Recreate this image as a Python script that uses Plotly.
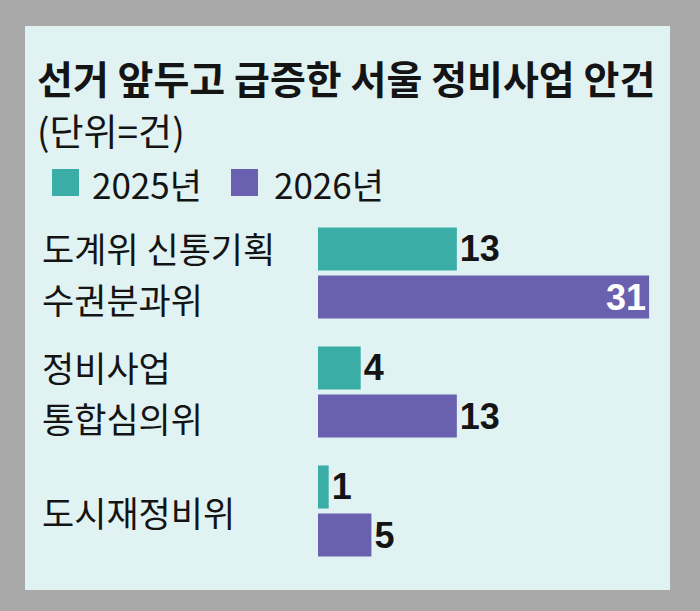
import plotly.graph_objects as go

# ---- data ----
categories = ["도계위 신통기획<br>수권분과위", "정비사업<br>통합심의위", "도시재정비위"]
series_names = ["2025년", "2026년"]
values_2025 = [13, 4, 1]
values_2026 = [31, 13, 5]
title_text = "선거 앞두고 급증한 서울 정비사업 안건"
unit_text = "(단위=건)"

# ---- styles ----
colors = ["#3aada6", "#6a60b0"]
panel_color = "#e0f2f2"
outer_color = "#a9a9a9"
text_color = "#141414"
kr_font = "Noto Sans CJK KR, Noto Sans, sans-serif"
num_font = "Liberation Sans Narrow, Liberation Sans, sans-serif"

W, H = 700, 611


def px(x):
    return x / W


def py(y):
    return 1 - y / H


fig = go.Figure()

positions_2026 = ["inside" if v >= 25 else "outside" for v in values_2026]
positions_2025 = ["inside" if v >= 25 else "outside" for v in values_2025]

for name, vals, col, pos in [
    (series_names[0], values_2025, colors[0], positions_2025),
    (series_names[1], values_2026, colors[1], positions_2026),
]:
    fig.add_trace(go.Bar(
        name=name,
        x=vals,
        y=categories,
        orientation="h",
        marker=dict(color=col, line=dict(width=0)),
        text=vals,
        texttemplate="%{x}",
        textposition=pos,
        textangle=0,
        insidetextanchor="end",
        constraintext="none",
        cliponaxis=False,
        insidetextfont=dict(family=num_font, size=36, color="white", weight="bold"),
        outsidetextfont=dict(family=num_font, size=36, color=text_color, weight="bold"),
        hoverinfo="skip",
    ))

shapes = [
    dict(type="rect", xref="paper", yref="paper",
         x0=px(25), x1=px(670), y0=py(590), y1=py(26),
         fillcolor=panel_color, line=dict(width=0), layer="below"),
]

annotations = [
    dict(text="<b>" + title_text + "</b>", xref="paper", yref="paper",
         x=px(35), y=py(77), xanchor="left", yanchor="middle", showarrow=False,
         font=dict(family=kr_font, size=39, color=text_color)),
    dict(text=unit_text, xref="paper", yref="paper",
         x=px(35), y=py(130), xanchor="left", yanchor="middle", showarrow=False,
         font=dict(family=kr_font, size=37, color=text_color)),
]

# manual legend
legend_items = [(52, 90), (231, 272)]
for (sq_x, tx_x), name, col in zip(legend_items, series_names, colors):
    shapes.append(dict(type="rect", xref="paper", yref="paper",
                       x0=px(sq_x), x1=px(sq_x + 27), y0=py(196), y1=py(169),
                       fillcolor=col, line=dict(width=0)))
    annotations.append(dict(text=name, xref="paper", yref="paper",
                            x=px(tx_x), y=py(183), xanchor="left", yanchor="middle",
                            showarrow=False,
                            font=dict(family=kr_font, size=35, color=text_color)))

# category labels (left aligned, one annotation per line)
line_gap = 51
for i, cat in enumerate(categories):
    lines = cat.split("<br>")
    n = len(lines)
    for j, line in enumerate(lines):
        shift = ((n - 1) / 2 - j) * line_gap
        annotations.append(dict(text=line, xref="paper", yref="y",
                                x=px(40), y=i, yshift=shift,
                                xanchor="left", yanchor="middle",
                                align="left", showarrow=False,
                                font=dict(family=kr_font, size=35, color=text_color)))

fig.update_layout(
    width=W, height=H,
    margin=dict(l=0, r=0, t=0, b=0),
    paper_bgcolor=outer_color,
    plot_bgcolor="rgba(0,0,0,0)",
    barmode="group",
    bargap=0.193,
    bargroupgap=0.104,
    showlegend=False,
    shapes=shapes,
    annotations=annotations,
    xaxis=dict(domain=[px(318), px(668)], range=[0, 350 / 10.68],
               visible=False, fixedrange=True),
    yaxis=dict(domain=[py(570.5), py(213.5)], range=[2.5, -0.5],
               type="category", visible=False, fixedrange=True),
)

fig.write_html("out.html")
